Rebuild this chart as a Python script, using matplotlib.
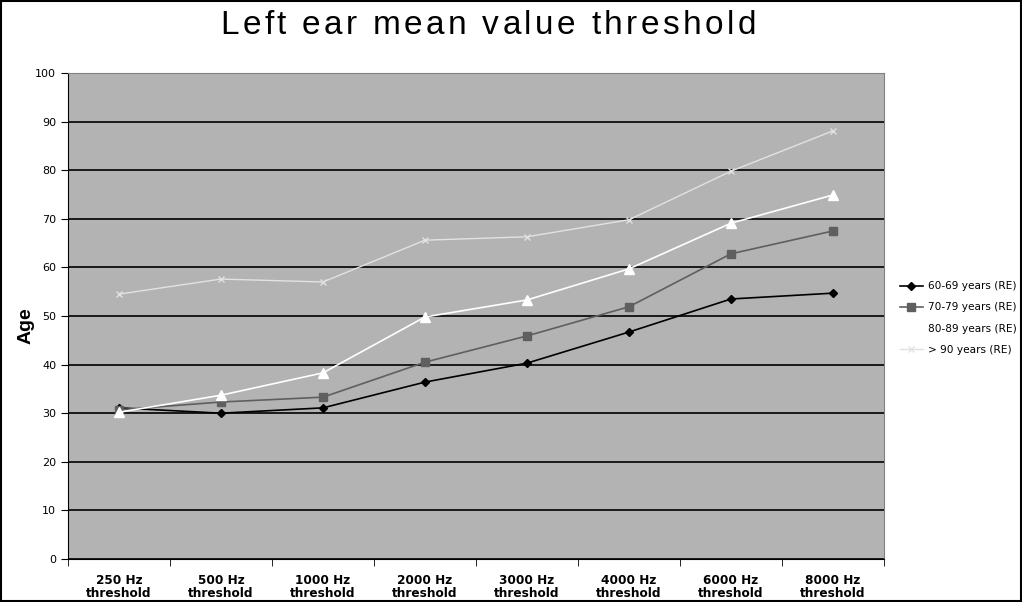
import matplotlib
matplotlib.use('Agg')
from matplotlib import pyplot as plt
import numpy as np

# data
categories = ['250 Hz\nthreshold', '500 Hz\nthreshold', '1000 Hz\nthreshold', '2000 Hz\nthreshold',
              '3000 Hz\nthreshold', '4000 Hz\nthreshold', '6000 Hz\nthreshold', '8000 Hz\nthreshold']
y_60 = [31.1, 30.0, 31.1, 36.4, 40.3, 46.7, 53.5, 54.7]
y_70 = [30.7, 32.3, 33.3, 40.5, 45.9, 51.9, 62.8, 67.5]
y_80 = [30.2, 33.7, 38.3, 49.8, 53.3, 59.7, 69.1, 74.9]
y_90 = [54.5, 57.6, 57.0, 65.6, 66.3, 69.8, 79.8, 88.1]
title = 'Left ear mean value threshold'

plt.rcParams['font.family'] = ['DejaVu Sans']

W, H = 1022, 602
fig = plt.figure(figsize=(W/100, H/100), dpi=100)
ax = fig.add_axes([68/W, 43/H, 816/W, 486/H])
ax.set_facecolor('#b3b3b3')

x = np.arange(len(categories))
ax.plot(x, y_60, color='black', marker='D', markersize=4, lw=1.2, label='60-69 years (RE)')
ax.plot(x, y_70, color='#5f5f5f', marker='s', markersize=6, lw=1.2, label='70-79 years (RE)')
ax.plot(x, y_80, color='white', marker='^', markersize=7, lw=1.2, label='80-89 years (RE)')
ax.plot(x, y_90, color='#e2e2e2', marker='x', markersize=5, lw=1.0, label='> 90 years (RE)')

ax.set_xlim(-0.5, len(categories) - 0.5)
ax.set_ylim(0, 100)
ax.set_yticks(range(0, 101, 10))
ax.yaxis.grid(True, color='black', lw=1.2)
ax.set_axisbelow(True)
ax.set_xticks(x)
ax.set_xticklabels(categories, fontsize=8.7, fontweight='bold', linespacing=0.95)
ax.set_xticks(np.arange(-0.5, len(categories), 1), minor=True)
ax.tick_params(axis='x', which='major', length=0, pad=11)
ax.tick_params(axis='x', which='minor', length=5, color='black')
ax.tick_params(axis='y', labelsize=8, length=5, color='black')
for s in ['top', 'right']:
    ax.spines[s].set_color('#808080')
ax.spines['left'].set_color('black')
ax.spines['bottom'].set_color('black')

ax.set_ylabel('Age', fontsize=14, fontweight='bold', family='Liberation Sans')
ax.yaxis.set_label_coords(-33/816, 0.48)

fig.legend(loc='center left', bbox_to_anchor=(890/W, 1 - 318/H), frameon=False,
           fontsize=7.6, handlelength=2.2, handletextpad=0.5, labelspacing=1.05)

# title with letter spacing, placed char by char
renderer = fig.canvas.get_renderer()
fs = 24
gap = 3.4
space_w = 9.0
widths = []
for ch in title:
    if ch == ' ':
        widths.append(space_w)
    else:
        t = fig.text(0, 0, ch, fontsize=fs, family='Liberation Sans')
        widths.append(t.get_window_extent(renderer).width)
        t.remove()
total = sum(widths) + gap * (len(title) - 1)
xpos = 488 - total / 2
for ch, w in zip(title, widths):
    if ch != ' ':
        fig.text(xpos / W, 1 - 26 / H, ch, fontsize=fs, family='Liberation Sans',
                 ha='left', va='center')
    xpos += w + gap

# outer border
fig.patches.append(plt.Rectangle((0.001, 0.001), 0.998, 0.997, transform=fig.transFigure,
                                 fill=False, edgecolor='black', lw=1.5))

plt.savefig('out.png', dpi=100)
